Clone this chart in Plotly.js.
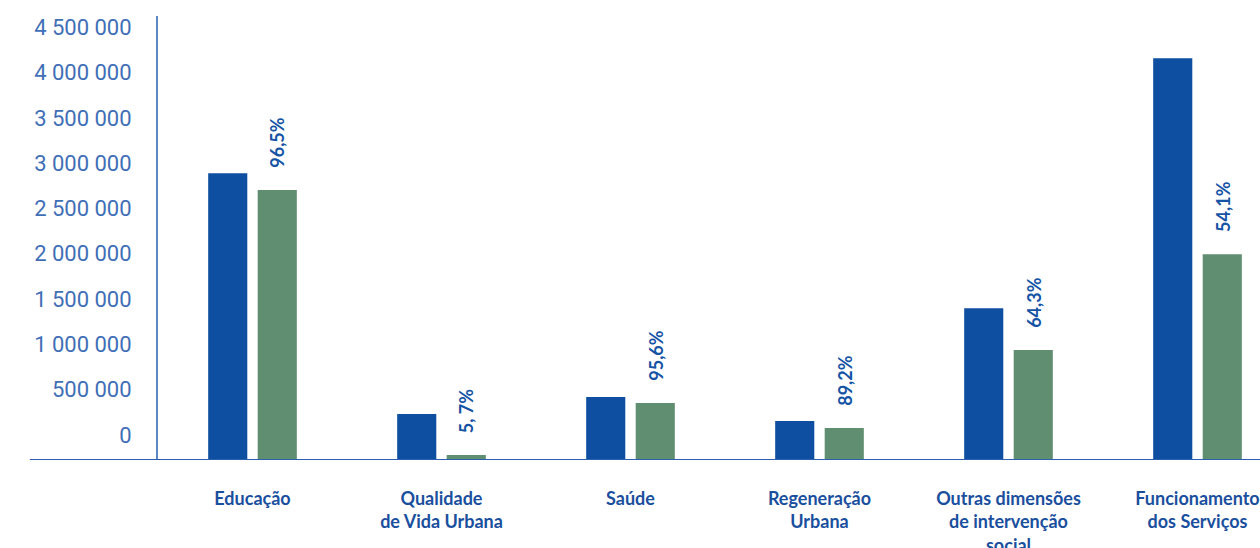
<!DOCTYPE html>
<html>
<head>
<meta charset="utf-8">
<script src="https://cdn.plot.ly/plotly-3.0.1.min.js"></script>
<style>
html,body{margin:0;padding:0;overflow:hidden;background:#fff;width:1260px;height:548px;}
#chart{width:1300px;height:548px;}
</style>
</head>
<body>
<div id="chart"></div>
<script>
const categorias = ["Educação", "Qualidade<br>de Vida Urbana", "Saúde", "Regeneração<br>Urbana", "Outras dimensões<br>de intervenção<br>social", "Funcionamento<br>dos Serviços"];
const valoresAzul = [3165000, 507000, 695000, 430000, 1676000, 4434000];
const valoresVerde = [2980000, 55000, 629000, 353000, 1213000, 2272000];
const percentagens = ["96,5%", "5, 7%", "95,6%", "89,2%", "64,3%", "54,1%"];
const yTicks = [0, 500000, 1000000, 1500000, 2000000, 2500000, 3000000, 3500000, 4000000, 4500000];

const azul = "#0e4fa1";
const verde = "#5f8f70";

const traces = [
  {type: "bar", x: categorias, y: valoresAzul, marker: {color: azul}, hoverinfo: "y", name: "A"},
  {type: "bar", x: categorias, y: valoresVerde, marker: {color: verde}, hoverinfo: "y", name: "B"}
];

const annotations = categorias.map((c, i) => ({
  x: c, y: valoresVerde[i], xref: "x", yref: "y",
  text: percentagens[i], showarrow: false, textangle: -90,
  xshift: 24.75, yshift: 20, xanchor: "center", yanchor: "bottom",
  font: {family: "Lato, 'Open Sans', sans-serif", size: 18, color: "#1553a5", weight: "bold"}
}));

const layout = {
  width: 1300, height: 548,
  margin: {l: 158, r: 8, t: 16, b: 88},
  paper_bgcolor: "#ffffff", plot_bgcolor: "#ffffff",
  separators: ", ",
  showlegend: false,
  barmode: "group",
  bargap: 0.476,
  bargroupgap: 0.21,
  xaxis: {
    type: "category",
    range: [-0.5, 5.5],
    showgrid: false, zeroline: false,
    showline: false,
    ticks: "",
    ticklabelstandoff: 26,
    tickfont: {family: "Lato, 'Open Sans', sans-serif", size: 18, color: "#1a4f9e", weight: "bold"},
    fixedrange: true
  },
  yaxis: {
    range: [0, 4900000],
    tickvals: yTicks,
    tickformat: ",d",
    showgrid: false, zeroline: false,
    showline: true, linecolor: "#5b87c5", linewidth: 2,
    ticks: "",
    ticklabelshift: -25,
    ticklabelstandoff: 20,
    tickfont: {family: "Roboto, sans-serif", size: 22, color: "#3f6fb6"},
    fixedrange: true
  },
  shapes: [
    {type: "line", xref: "paper", yref: "y", x0: -0.113, x1: 1.02, y0: 0, y1: 0,
     line: {color: "#2c60ae", width: 2}, layer: "above"}
  ],
  annotations: annotations
};

Plotly.newPlot("chart", traces, layout, {displayModeBar: false, responsive: false});
</script>
</body>
</html>
